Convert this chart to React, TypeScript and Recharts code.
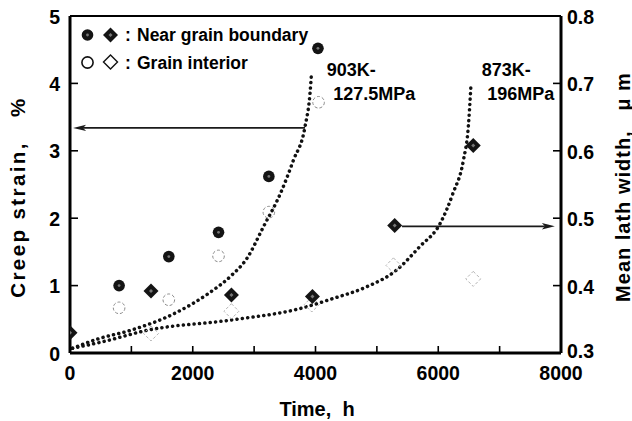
import React from 'react';
import { ComposedChart, Line, Scatter, XAxis, YAxis, ReferenceLine, ReferenceDot } from 'recharts';

const FONT = '"Liberation Sans", Arial, Helvetica, sans-serif';

// axes
const timeTicks = [0, 1000, 2000, 3000, 4000, 5000, 6000, 7000, 8000];
const strainTicks = [0, 1, 2, 3, 4, 5];
const widthTicks = [0.3, 0.4, 0.5, 0.6, 0.7, 0.8];

// mean lath width (um), 903K-127.5MPa
const gb903Time = [800, 1610, 2420, 3240, 4040];
const gb903Width = [0.4, 0.443, 0.479, 0.562, 0.752];
const gi903Time = [800, 1610, 2420, 3240, 4050];
const gi903Width = [0.367, 0.379, 0.444, 0.509, 0.672];

// mean lath width (um), 873K-196MPa
const gb873Time = [0, 1320, 2630, 3950, 5290, 6570];
const gb873Width = [0.33, 0.392, 0.386, 0.384, 0.489, 0.608];
const gi873Time = [1320, 2630, 3940, 5270, 6570];
const gi873Width = [0.329, 0.362, 0.372, 0.43, 0.41];

// creep curves (strain %)
const creep903Time = [40, 460, 1000, 1710, 2250, 2630, 2880, 3150, 3430, 3640, 3830, 3910, 3935];
const creep903Strain = [0.07, 0.21, 0.34, 0.59, 0.88, 1.15, 1.4, 1.87, 2.37, 2.86, 3.36, 3.85, 4.15];
const creep873Time = [40, 500, 1275, 2630, 3750, 4290, 4830, 5320, 5700, 6030, 6240, 6410, 6490, 6530];
const creep873Strain = [0.07, 0.16, 0.34, 0.49, 0.66, 0.81, 0.98, 1.23, 1.58, 1.92, 2.37, 2.86, 3.36, 3.93];

const pts = (ts: number[], vs: number[], key: string) => ts.map((t, i) => ({ t, [key]: vs[i] }));

const gb903 = pts(gb903Time, gb903Width, 'w');
const gi903 = pts(gi903Time, gi903Width, 'w');
const gb873 = pts(gb873Time, gb873Width, 'w');
const gi873 = pts(gi873Time, gi873Width, 'w');
const creep903 = pts(creep903Time, creep903Strain, 's');
const creep873 = pts(creep873Time, creep873Strain, 's');

const txt: React.CSSProperties = { fontFamily: FONT, fontWeight: 700, fill: '#000' };

const diamond = (cx: number, cy: number, r: number) =>
  `${cx},${cy - r} ${cx + r},${cy} ${cx},${cy + r} ${cx - r},${cy}`;

const FilledCircle = (p: any) => (
  <g>
    <circle cx={p.cx} cy={p.cy} r={5.8} fill="#141414" />
    <circle cx={p.cx} cy={p.cy} r={1.4} fill="#777" />
  </g>
);
const OpenCircle = (p: any) => (
  <circle cx={p.cx} cy={p.cy} r={5.8} fill="none" stroke="#8a8a8a" strokeWidth={1} strokeDasharray="3 2" />
);
const FilledDiamond = (p: any) => (
  <g>
    <polygon points={diamond(p.cx, p.cy, 7.5)} fill="#141414" />
    <polygon points={diamond(p.cx, p.cy, 2)} fill="#777" />
  </g>
);
const OpenDiamond = (p: any) => (
  <polygon points={diamond(p.cx, p.cy, 7.5)} fill="none" stroke="#b5b5b5" strokeWidth={1} strokeDasharray="3 2" />
);

const Arrow = (p: any) => {
  const { x1, y1, x2, y2 } = p;
  const dx = x2 - x1;
  const dy = y2 - y1;
  const len = Math.hypot(dx, dy) || 1;
  const ux = dx / len;
  const uy = dy / len;
  const hl = 13;
  const hw = 3.2;
  const bx = x2 - ux * hl;
  const by = y2 - uy * hl;
  return (
    <g>
      <line x1={x1} y1={y1} x2={bx + ux * 3} y2={by + uy * 3} stroke="#1a1a1a" strokeWidth={1.8} />
      <polygon points={`${x2},${y2} ${bx - uy * hw},${by + ux * hw} ${bx + ux * 3},${by + uy * 3} ${bx + uy * hw},${by - ux * hw}`} fill="#1a1a1a" />
    </g>
  );
};

const TimeTick = (p: any) => {
  const { x, y, payload } = p;
  const v = payload.value;
  return (
    <g>
      <line x1={x} y1={y} x2={x} y2={y - 7} stroke="#000" strokeWidth={1.6} />
      {v % 2000 === 0 && (
        <text x={x} y={y + 27} textAnchor="middle" fontSize={19.5} style={txt}>{v}</text>
      )}
    </g>
  );
};

const StrainTick = (p: any) => {
  const { x, y, payload } = p;
  return (
    <g>
      <line x1={x} y1={y} x2={x + 8} y2={y} stroke="#000" strokeWidth={1.6} />
      <text x={x - 10} y={y + 7.5} textAnchor="end" fontSize={19.5} style={txt}>{payload.value}</text>
    </g>
  );
};

const WidthTick = (p: any) => {
  const { x, y, payload, index } = p;
  // the bottom label sits just above the "8000" time label
  const dy = index === 0 ? 5 : 8;
  return (
    <g>
      <line x1={x} y1={y} x2={x - 8} y2={y} stroke="#000" strokeWidth={1.6} />
      <text x={x + 6} y={y + dy} textAnchor="start" fontSize={19.5} style={txt}>{Number(payload.value).toFixed(1)}</text>
    </g>
  );
};

const Legend = (p: any) => {
  const x = p.cx;
  const y = p.cy;
  return (
    <g>
      <FilledCircle cx={x + 17.5} cy={y + 19} />
      <FilledDiamond cx={x + 40.5} cy={y + 19} />
      <text x={x + 55} y={y + 25.3} fontSize={17.5} style={txt}>:</text>
      <text x={x + 67} y={y + 25.3} fontSize={17.5} style={txt}>Near grain boundary</text>
      <circle cx={x + 17.5} cy={y + 46.5} r={5.6} fill="none" stroke="#111" strokeWidth={1.6} />
      <polygon points={diamond(x + 40.5, y + 46, 7)} fill="none" stroke="#111" strokeWidth={1.4} />
      <text x={x + 55} y={y + 52.8} fontSize={17.5} style={txt}>:</text>
      <text x={x + 67} y={y + 52.8} fontSize={17.5} style={txt}>Grain interior</text>
    </g>
  );
};

const note = (label: string) => (p: any) => (
  <text x={p.cx} y={p.cy} fontSize={18} style={txt}>{label}</text>
);

export default function App() {
  return (
    <div style={{ position: 'absolute', left: 0, top: 0, width: 632, height: 421, background: '#fff' }}>
      <ComposedChart width={632} height={421} margin={{ top: 16, right: 0, bottom: 0, left: 0 }}>
        <XAxis
          dataKey="t"
          type="number"
          domain={[0, 8000]}
          ticks={timeTicks}
          allowDataOverflow
          height={68}
          tickSize={0}
          tickMargin={0}
          tickLine={false}
          axisLine={{ stroke: '#000', strokeWidth: 3 }}
          tick={TimeTick}
          interval={0}
          label={{
            content: () => (
              <text x={317} y={416} textAnchor="middle" fontSize={20} style={{ ...txt, whiteSpace: 'pre' }}>{'Time,  h'}</text>
            ),
          }}
        />
        <YAxis
          yAxisId="left"
          type="number"
          domain={[0, 5]}
          ticks={strainTicks}
          width={70}
          tickSize={0}
          tickMargin={0}
          tickLine={false}
          axisLine={{ stroke: '#000', strokeWidth: 3 }}
          tick={StrainTick}
          interval={0}
          label={{
            content: () => (
              <text x={24.5} y={197} transform="rotate(-90 24.5 197)" textAnchor="middle" fontSize={20.5} letterSpacing={2.4} style={{ ...txt, whiteSpace: 'pre' }}>{'Creep strain,   %'}</text>
            ),
          }}
        />
        <YAxis
          yAxisId="right"
          orientation="right"
          type="number"
          domain={[0.3, 0.8]}
          ticks={widthTicks}
          width={71}
          tickSize={0}
          tickMargin={0}
          tickLine={false}
          axisLine={{ stroke: '#000', strokeWidth: 3 }}
          tick={WidthTick}
          interval={0}
          label={{
            content: () => (
              <text x={629.5} y={187} transform="rotate(-90 629.5 187)" textAnchor="middle" fontSize={20} letterSpacing={1} style={{ ...txt, whiteSpace: 'pre' }}>{'Mean lath width,   \u03bc m'}</text>
            ),
          }}
        />
        <ReferenceLine yAxisId="left" y={5} stroke="#000" strokeWidth={2} />

        <Scatter yAxisId="right" data={gi903} dataKey="w" shape={OpenCircle} isAnimationActive={false} />
        <Scatter yAxisId="right" data={gi873} dataKey="w" shape={OpenDiamond} isAnimationActive={false} />

        <Line yAxisId="left" data={creep903} dataKey="s" type="monotone" stroke="#111" strokeWidth={3.5} strokeDasharray="0.1 5.3" strokeLinecap="round" dot={false} activeDot={false} isAnimationActive={false} />
        <Line yAxisId="left" data={creep873} dataKey="s" type="monotone" stroke="#111" strokeWidth={3.5} strokeDasharray="0.1 5.3" strokeLinecap="round" dot={false} activeDot={false} isAnimationActive={false} />

        <Scatter yAxisId="right" data={gb903} dataKey="w" shape={FilledCircle} isAnimationActive={false} />
        <Scatter yAxisId="right" data={gb873} dataKey="w" shape={FilledDiamond} isAnimationActive={false} />

        <ReferenceLine yAxisId="left" segment={[{ x: 3830, y: 3.34 }, { x: 50, y: 3.34 }]} shape={Arrow} />
        <ReferenceLine yAxisId="right" segment={[{ x: 5410, y: 0.488 }, { x: 7900, y: 0.488 }]} shape={Arrow} />

        <ReferenceDot yAxisId="left" x={0} y={5} r={0} ifOverflow="visible" shape={Legend} />
        <ReferenceDot yAxisId="left" x={4183} y={4.11} r={0} ifOverflow="visible" shape={note('903K-')} />
        <ReferenceDot yAxisId="left" x={4290} y={3.754} r={0} ifOverflow="visible" shape={note('127.5MPa')} />
        <ReferenceDot yAxisId="left" x={6708} y={4.11} r={0} ifOverflow="visible" shape={note('873K-')} />
        <ReferenceDot yAxisId="left" x={6799} y={3.754} r={0} ifOverflow="visible" shape={note('196MPa')} />
      </ComposedChart>
    </div>
  );
}
